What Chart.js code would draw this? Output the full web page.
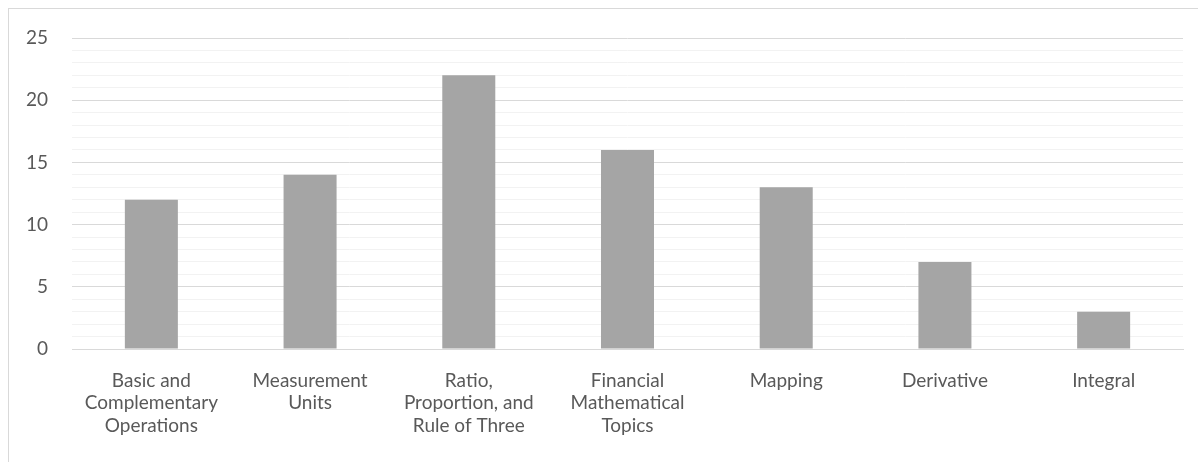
<!DOCTYPE html>
<html>
<head>
<meta charset="utf-8">
<script src="https://cdn.jsdelivr.net/npm/chart.js@4/dist/chart.umd.min.js"></script>
<style>
  html,body{margin:0;padding:0;background:#fff;overflow:hidden;}
  #wrap{position:relative;width:1198px;height:462px;}
  #frame{position:absolute;left:8px;top:8px;right:-10px;bottom:-10px;border-top:1px solid #D9D9D9;border-left:1px solid #D9D9D9;pointer-events:none;}
  canvas{position:absolute;left:0;top:0;}
</style>
</head>
<body>
<div id="wrap">
  <div id="frame"></div>
  <canvas id="c" width="1198" height="462"></canvas>
</div>
<script>
  // categories (multi-line labels as shown under each bar)
  const categories = [
    ['Basic and','Complementary','Operations'],
    ['Measurement','Units'],
    ['Ratio,','Proportion, and','Rule of Three'],
    ['Financial','Mathematical','Topics'],
    ['Mapping'],
    ['Derivative'],
    ['Integral']
  ];
  const values = [12, 14, 22, 16, 13, 7, 3];
  const yMax = 25, yMajor = 5, yMinor = 1;

  const XFONT = {family:'Lato, "Open Sans", sans-serif', size:19, lineHeight:1.2};
  const YFONT = {family:'Lato, "Open Sans", sans-serif', size:19};
  const TXT = '#595959', MAJOR = '#D9D9D9', MINOR = '#F2F2F2', BAR = '#A5A5A5';

  new Chart(document.getElementById('c'), {
    type:'bar',
    data:{labels:categories, datasets:[{data:values, backgroundColor:BAR, borderWidth:0,
      categoryPercentage:1, barPercentage:0.334}]},
    options:{
      responsive:false, animation:false,
      layout:{padding:{top:38, right:15, left:0, bottom:0}},
      plugins:{legend:{display:false}, tooltip:{enabled:false}},
      scales:{
        x:{
          grid:{display:false, drawTicks:false},
          border:{display:true, color:MAJOR, width:1},
          ticks:{color:TXT, font:XFONT, padding:20, maxRotation:0, autoSkip:false},
          afterFit:s=>{s.height=113;}
        },
        y:{
          min:0, max:yMax,
          grid:{drawTicks:false, color:c=>c.tick.value%yMajor===0?MAJOR:MINOR, lineWidth:1},
          border:{display:false},
          ticks:{stepSize:yMinor, autoSkip:false, color:TXT, font:YFONT, padding:24,
            callback:v=>v%yMajor===0?v:''},
          afterFit:s=>{s.width=72;}
        }
      }
    }
  });
</script>
</body>
</html>
